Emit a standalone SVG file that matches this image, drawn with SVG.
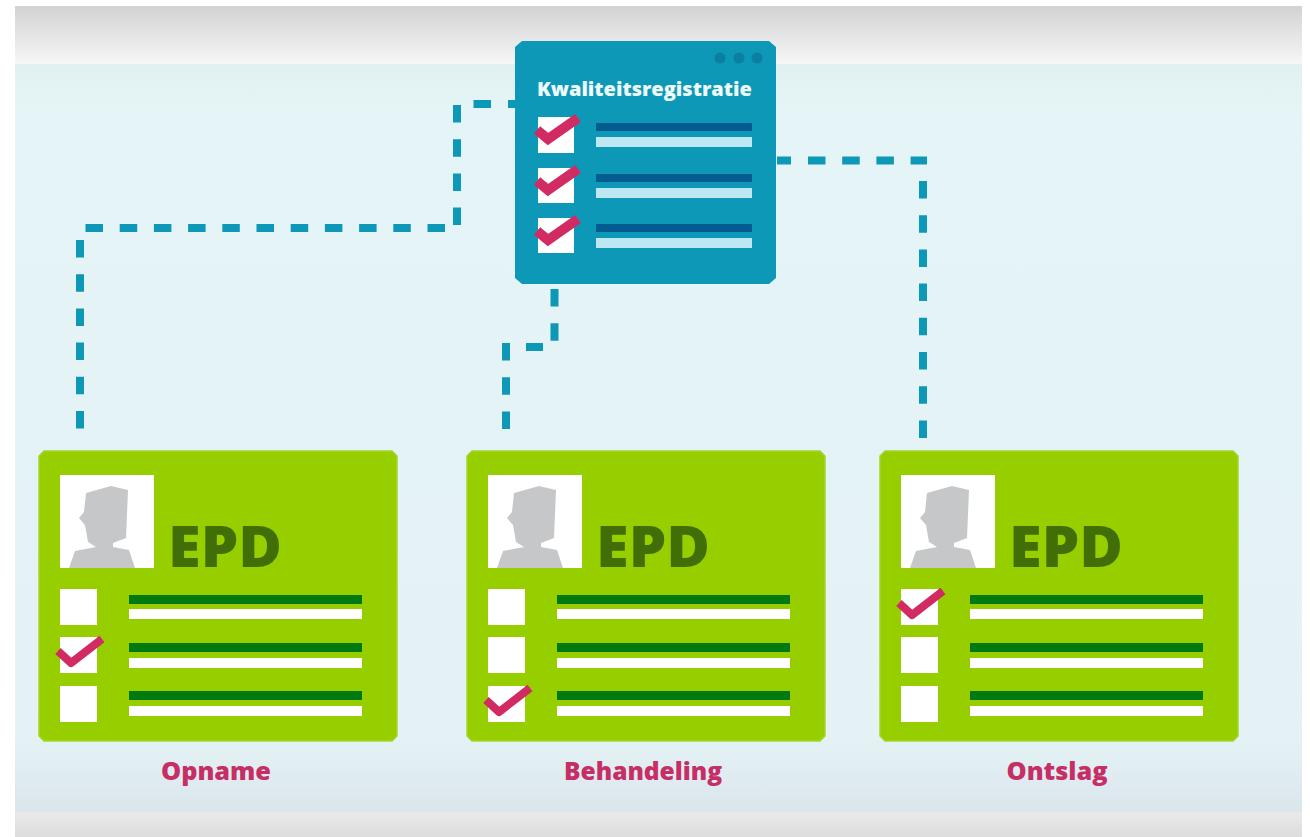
<svg xmlns="http://www.w3.org/2000/svg" width="1310" height="837" viewBox="0 0 1310 837">
<style>
.dash{fill:none;stroke:#0e98b8;stroke-width:8;stroke-dasharray:17.5 16.7}
.card{fill:#96ce00;stroke:#a4d62a;stroke-width:1.5}
.w{fill:#fff}
.g{fill:#007a10}
.epd{font:800 57px "Open Sans","Liberation Sans",sans-serif;fill:#426e08}
.lab{font:800 24px "Open Sans","Liberation Sans",sans-serif;fill:#c52f66;text-anchor:middle}
.title{font:800 20px "Open Sans","Liberation Sans",sans-serif;fill:#eefafa}
.chk{fill:none;stroke:#d22a62;stroke-width:8;stroke-linejoin:round}
.chkb{fill:none;stroke:#d22a62;stroke-width:10}
.dk{fill:#045b8f}
.lt{fill:#bde7f2}
.bx{fill:#fff}
.dot{fill:#0b7f9f}
</style>
<defs>
<linearGradient id="top" x1="0" y1="0" x2="0" y2="1"><stop offset="0" stop-color="#d2d2d2"/><stop offset="1" stop-color="#f8f7f7"/></linearGradient>
<linearGradient id="bot" x1="0" y1="0" x2="0" y2="1"><stop offset="0" stop-color="#ebeaea"/><stop offset="1" stop-color="#dcdcdc"/></linearGradient>
<linearGradient id="main" x1="0" y1="0" x2="0" y2="1"><stop offset="0" stop-color="#e1f0f0"/><stop offset=".06" stop-color="#e5f4f6"/><stop offset=".9" stop-color="#e4f2f5"/><stop offset="1" stop-color="#dbe6ec"/></linearGradient>
<g id="person"><rect class="w" width="94" height="93"/><path fill="#c5c7c9" d="M9 93 L15 76 L36 72 L28 67 L25 50 L19 43 L24 37 L26 18 L51 11 L68 15 L66 63 L53 68 L53 72 L69 75 L75 93 Z"/></g>
<g id="rows"><rect class="bx" x="0" y="0" width="37" height="36"/><rect class="bx" x="0" y="48" width="37" height="36"/><rect class="bx" x="0" y="97" width="37" height="36"/>
<rect class="g" x="69" y="6" width="233" height="9"/><rect class="w" x="69" y="20" width="233" height="10"/>
<rect class="g" x="69" y="54" width="233" height="9"/><rect class="w" x="69" y="69" width="233" height="10"/>
<rect class="g" x="69" y="102" width="233" height="9"/><rect class="w" x="69" y="117" width="233" height="10"/></g>
<path id="ck" class="chk" d="M-13 -10 L0 2 L31 -22"/>
<path id="ckb" class="chkb" d="M-11 -11 L0 -2 L30 -23"/>
<path id="cardshape" class="card" d="M6 1 H354 L359 6 V286 L354 291 H6 L1 286 V6 Z"/>
</defs>
<rect width="1310" height="837" fill="#fff"/>
<rect x="15" y="6" width="1287" height="58" fill="url(#top)"/>
<rect x="15" y="64" width="1287" height="748" fill="url(#main)"/>
<rect x="15" y="812" width="1287" height="25" fill="url(#bot)"/>
<g id="connectors">
<path class="dash" d="M515 104 H508 M491 104 H473 M457 105 V225 M445 228 H85 M80 240 V429"/>
<path class="dash" d="M791 160.500 H777 M808 160.500 H927 M923 181 V438"/>
<path class="dash" d="M554.500 289 V341 M543 347 H526 M506 343 V430"/>
</g>
<g id="kwaliteitsregistratie">
<path fill="#0e98b8" d="M522 41 H769 L776 47 V278 L769 284 H522 L515 278 V47 Z"/>
<circle class="dot" cx="720" cy="58" r="5.500"/><circle class="dot" cx="739" cy="58" r="5.500"/><circle class="dot" cx="757" cy="58" r="5.500"/>
<text class="title" x="537" y="96">Kwaliteitsregistratie</text>
<rect class="bx" x="538" y="117" width="36" height="36"/><rect class="bx" x="538" y="168" width="36" height="35"/><rect class="bx" x="538" y="218" width="36" height="35"/>
<rect class="dk" x="596" y="123" width="156" height="8"/><rect class="lt" x="596" y="137" width="156" height="10"/>
<rect class="dk" x="596" y="174" width="156" height="8"/><rect class="lt" x="596" y="188" width="156" height="10"/>
<rect class="dk" x="596" y="224" width="156" height="8"/><rect class="lt" x="596" y="238" width="156" height="10"/>
<use href="#ckb" x="548" y="141"/><use href="#ckb" x="548" y="192"/><use href="#ckb" x="548" y="242"/>
</g>
<g id="epd-opname" transform="translate(38 450)">
<use href="#cardshape"/><use href="#person" x="22" y="25"/><text class="epd" x="130" y="117" textLength="114" lengthAdjust="spacingAndGlyphs">EPD</text>
<use href="#rows" x="22" y="139"/><use href="#ck" x="33" y="211"/>
<text class="lab" x="178" y="330" textLength="110" lengthAdjust="spacingAndGlyphs">Opname</text>
</g>
<g id="epd-behandeling" transform="translate(466 450)">
<use href="#cardshape"/><use href="#person" x="22" y="25"/><text class="epd" x="130" y="117" textLength="114" lengthAdjust="spacingAndGlyphs">EPD</text>
<use href="#rows" x="22" y="139"/><use href="#ck" x="33" y="260"/>
<text class="lab" x="177" y="330" textLength="158" lengthAdjust="spacingAndGlyphs">Behandeling</text>
</g>
<g id="epd-ontslag" transform="translate(879 450)">
<use href="#cardshape"/><use href="#person" x="22" y="25"/><text class="epd" x="130" y="117" textLength="114" lengthAdjust="spacingAndGlyphs">EPD</text>
<use href="#rows" x="22" y="139"/><use href="#ck" x="33" y="163"/>
<text class="lab" x="178" y="330" textLength="101" lengthAdjust="spacingAndGlyphs">Ontslag</text>
</g>
</svg>
